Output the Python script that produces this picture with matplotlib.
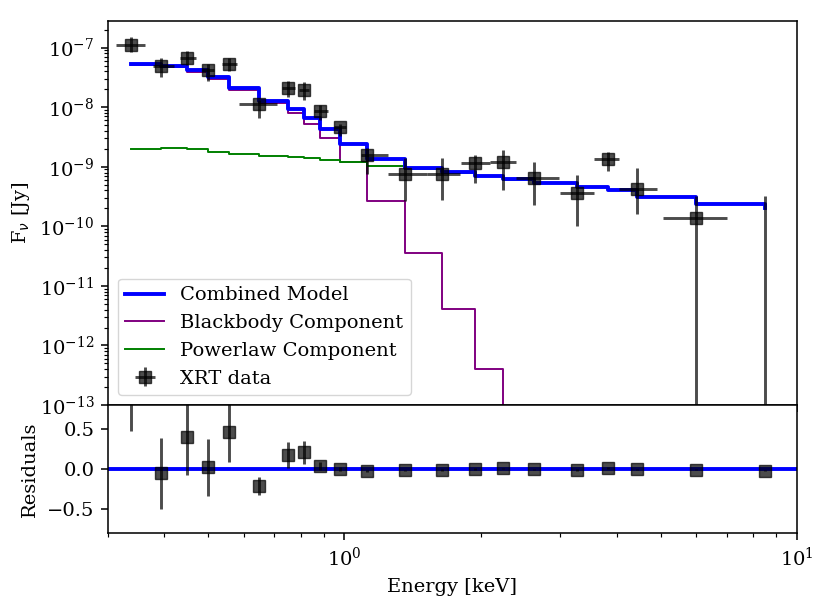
import numpy as np
import matplotlib
matplotlib.use("Agg")
import matplotlib.pyplot as plt

s = 1.4
plt.rcParams['font.family'] = ['DejaVu Serif']
plt.rcParams.update({
    'font.size': 10 * s,
    'axes.linewidth': 0.8 * s,
    'xtick.major.size': 3.5 * s, 'ytick.major.size': 3.5 * s,
    'xtick.minor.size': 2 * s, 'ytick.minor.size': 2 * s,
    'xtick.major.width': 0.8 * s, 'ytick.major.width': 0.8 * s,
    'xtick.minor.width': 0.6 * s, 'ytick.minor.width': 0.6 * s,
    'xtick.major.pad': 3.5 * s, 'ytick.major.pad': 3.5 * s,
    'axes.labelpad': 4 * s,
})

# Data points (energy keV)
energy = [0.337, 0.393, 0.449, 0.499, 0.555, 0.648, 0.752, 0.815, 0.885, 0.978,
          1.12, 1.362, 1.641, 1.946, 2.245, 2.63, 3.265, 3.83, 4.44, 6.0, 8.5]
e_lo = [0.312, 0.378, 0.434, 0.484, 0.536, 0.586, 0.727, 0.795, 0.855, 0.950,
        1.09, 1.25, 1.52, 1.81, 2.10, 2.40, 2.99, 3.57, 4.05, 5.05, 8.0]
e_hi = [0.362, 0.420, 0.470, 0.515, 0.580, 0.708, 0.776, 0.836, 0.920, 1.010,
        1.25, 1.52, 1.80, 2.10, 2.40, 2.98, 3.56, 4.05, 4.92, 7.0, 9.0]
flux = [1.1e-7, 4.95e-8, 6.7e-8, 4.2e-8, 5.4e-8, 1.11e-8, 2.1e-8, 1.94e-8, 8.7e-9, 4.7e-9,
        1.59e-9, 7.7e-10, 7.55e-10, 1.14e-9, 1.21e-9, 6.4e-10, 3.58e-10, 1.35e-9, 4.2e-10, 1.39e-10, -1.0e-10]
flux_lo = [8.3e-8, 3.2e-8, 5.1e-8, 2.8e-8, 4.1e-8, 6.5e-9, 1.5e-8, 1.3e-8, 6.1e-9, 3.3e-9,
           7.5e-10, 2.7e-10, 2.8e-10, 5.4e-10, 4.1e-10, 2.3e-10, 1.0e-10, 8.4e-10, 1.6e-10, -1e-10, -1e-10]
flux_hi = [1.5e-7, 6.7e-8, 8.8e-8, 5.3e-8, 6.8e-8, 1.34e-8, 2.8e-8, 2.6e-8, 1.1e-8, 5.3e-9,
           2.1e-9, 1.4e-9, 1.4e-9, 1.6e-9, 1.9e-9, 1.2e-9, 7.4e-10, 1.8e-9, 9.5e-10, 3.2e-10, 3.2e-10]

# Model step values at each data energy (post-step)
combined = [5.35e-8, 4.9e-8, 4.2e-8, 3.16e-8, 2.07e-8, 1.26e-8, 9.2e-9, 6.5e-9, 4.3e-9, 2.4e-9,
            1.33e-9, 9.4e-10, 8.05e-10, 6.98e-10, 6.15e-10, 5.27e-10, 4.5e-10, 4.06e-10, 3.14e-10, 2.37e-10, 2.0e-10]
blackbody = [5.19e-8, 4.7e-8, 3.93e-8, 2.96e-8, 1.94e-8, 1.16e-8, 7.9e-9, 5.15e-9, 3.0e-9, 1.21e-9,
             2.69e-10, 3.6e-11, 4.05e-12, 4.0e-13, 3e-14, 2e-15, 1e-16, 1e-17, 1e-18, 1e-19, 1e-20]
powerlaw = [1.96e-9, 2.04e-9, 1.96e-9, 1.79e-9, 1.63e-9, 1.53e-9, 1.46e-9, 1.38e-9, 1.29e-9, 1.2e-9,
            1.04e-9, 9.0e-10, 8.0e-10, 6.95e-10, 6.1e-10, 5.25e-10, 4.5e-10, 4.05e-10, 3.14e-10, 2.37e-10, 2.0e-10]

# Residuals
resid = [1.05, -0.054, 0.40, 0.02, 0.46, -0.21, 0.175, 0.21, 0.0375, 0.0,
         -0.025, -0.017, -0.01, 0.0, 0.008, -0.004, -0.0125, 0.0125, -0.004, -0.008, -0.02]
resid_err = [0.57, 0.44, 0.47, 0.36, 0.37, 0.11, 0.16, 0.145, 0.05, 0.02,
             0.01, 0.01, 0.01, 0.01, 0.01, 0.01, 0.01, 0.01, 0.01, 0.01, 0.01]

E = np.array(energy)
xerr = np.array([E - np.array(e_lo), np.array(e_hi) - E])
F = np.array(flux)
yerr = np.array([F - np.array(flux_lo), np.array(flux_hi) - F])

fig = plt.figure(figsize=(8.3, 6.07), dpi=100)
gs = fig.add_gridspec(2, 1, height_ratios=[3, 1], hspace=0,
                      left=0.130, right=0.960, top=0.9654, bottom=0.1219)
ax = fig.add_subplot(gs[0])
axr = fig.add_subplot(gs[1], sharex=ax)

ax.step(E, combined, where='post', color='blue', lw=2 * s, label='Combined Model', zorder=3)
ax.step(E, blackbody, where='post', color='purple', lw=1 * s, label='Blackbody Component', zorder=2)
ax.step(E, powerlaw, where='post', color='green', lw=1 * s, label='Powerlaw Component', zorder=2)
ax.errorbar(E, F, xerr=xerr, yerr=yerr, fmt='s', color='k', alpha=0.7,
            markersize=6.5 * s, elinewidth=1.5 * s, capsize=0, label='XRT data', zorder=4)

ax.set_xscale('log')
ax.set_yscale('log')
ax.set_xlim(0.3, 10)
ax.set_ylim(1e-13, 2.8e-7)
ax.set_ylabel(r'F$_\nu$ [Jy]')
ax.tick_params(axis='x', labelbottom=False)
ax.legend(loc='lower left')

axr.errorbar(E, resid, yerr=resid_err, fmt='s', color='k', alpha=0.7,
             markersize=6.5 * s, elinewidth=1.5 * s, capsize=0, zorder=3)
axr.axhline(0, color='blue', lw=2 * s, zorder=2)
axr.set_ylim(-0.8, 0.8)
axr.set_yticks([-0.5, 0.0, 0.5])
axr.set_ylabel('Residuals')
axr.set_xlabel('Energy [keV]')

fig.savefig('out.png', dpi=100)
